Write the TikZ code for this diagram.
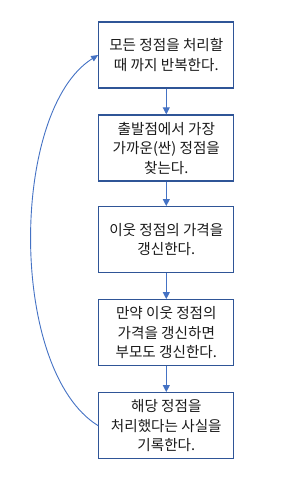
\documentclass[tikz,border=0pt]{standalone}
\usepackage{fontspec}
\setmainfont{Noto Sans CJK KR}
\usetikzlibrary{arrows.meta}
\definecolor{boxblue}{HTML}{2F5597}
\definecolor{arrowblue}{HTML}{4472C4}
\begin{document}
\begin{tikzpicture}[x=1pt,y=-1pt,
  stepbox/.style={draw=boxblue, line width=1.3pt, minimum width=135pt, minimum height=66pt,
    align=center, text=black!90, font=\fontsize{14.6}{19.5}\selectfont, inner sep=0pt},
  flow/.style={draw=arrowblue, line width=1.1pt, -{Triangle[length=7pt,width=7pt]}},
  loopback/.style={draw=arrowblue, line width=0.9pt, -{Triangle[length=7pt,width=6pt]}}]
\useasboundingbox (0,0) rectangle (282,477);
\node[stepbox] (b1) at (166.3,55) {모든 정점을 처리할\\때 까지 반복한다.};
\node[stepbox] (b2) at (166.3,148) {출발점에서 가장\\가까운(싼) 정점을\\찾는다.};
\node[stepbox] (b3) at (166.3,239.7) {이웃 정점의 가격을\\갱신한다.};
\node[stepbox] (b4) at (166.3,332.7) {만약 이웃 정점의\\가격을 갱신하면\\부모도 갱신한다.};
\node[stepbox] (b5) at (166.3,425.7) {해당 정점을\\처리했다는 사실을\\기록한다.};
\draw[flow] (b1) -- (b2);
\draw[flow] (b2) -- (b3);
\draw[flow] (b3) -- (b4);
\draw[flow] (b4) -- (b5);
\draw[loopback] (b5.west) .. controls (8,370) and (10,110) .. (b1.west);
\end{tikzpicture}
\end{document}
